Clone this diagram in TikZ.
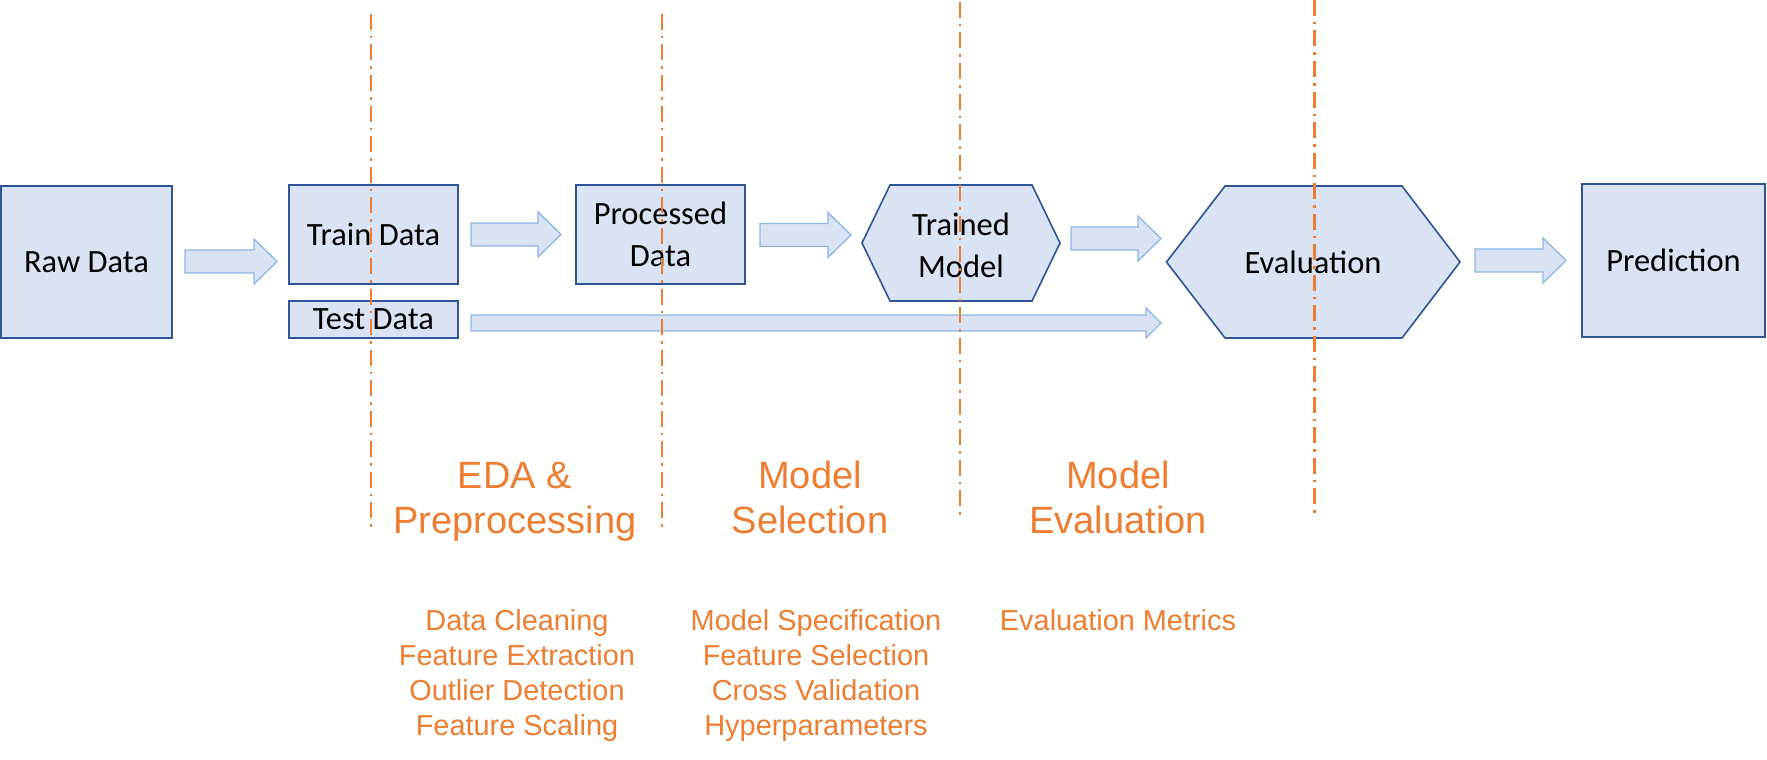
\documentclass[tikz,border=0pt]{standalone}
\usepackage{fontspec}
\setmainfont{Liberation Sans}
\newfontfamily\boxfont{Carlito}
\definecolor{boxfill}{HTML}{DAE3F3}
\definecolor{boxline}{HTML}{2F5597}
\definecolor{arrline}{HTML}{8DB6E4}
\definecolor{accent}{HTML}{ED7D31}
\newcommand\blockarr[6]{\draw[blockarrow] (#1,{#3-#4}) -- ({#2-#6},{#3-#4}) -- ({#2-#6},{#3-#5}) -- (#2,#3) -- ({#2-#6},{#3+#5}) -- ({#2-#6},{#3+#4}) -- (#1,{#3+#4}) -- cycle;}
\begin{document}
\begin{tikzpicture}[x=1pt,y=-1pt,
  box/.style={draw=boxline, fill=boxfill, line width=1.6pt, inner sep=0pt, font=\boxfont\fontsize{32.5}{42}\selectfont, align=center},
  hexbox/.style={draw=boxline, fill=boxfill, line width=1.6pt, line join=miter},
  boxtext/.style={inner sep=0pt, font=\boxfont\fontsize{32.5}{42}\selectfont, align=center},
  divider/.style={draw=accent, line width=2.2pt, dash pattern=on 16pt off 6pt on 2.5pt off 6pt},
  title/.style={text=accent, inner sep=0pt, font=\fontsize{38}{45}\selectfont, align=center},
  sub/.style={text=accent, inner sep=0pt, font=\fontsize{28.9}{35}\selectfont, align=center},
  blockarrow/.style={draw=arrline, fill=boxfill, line width=1.3pt, line join=miter}]
\useasboundingbox (0,0) rectangle (1767,760);

% boxes
\node[box, minimum width=171pt, minimum height=152pt] (raw) at (86.5,262) {Raw Data};
\node[box, minimum width=169pt, minimum height=99pt] (train) at (373.5,234.5) {Train Data};
\node[box, minimum width=169pt, minimum height=37pt] (test) at (373.5,319.5) {Test Data};
\node[box, minimum width=169pt, minimum height=99pt] (proc) at (660.5,234.5) {Processed\\Data};
\draw[hexbox] (862,243) -- (890,185) -- (1032,185) -- (1060,243) -- (1032,301) -- (890,301) -- cycle;
\node[boxtext] (trained) at (961,245) {Trained\\Model};
\draw[hexbox] (1166.5,262) -- (1225,186) -- (1402,186) -- (1460,262) -- (1402,338) -- (1225,338) -- cycle;
\node[boxtext] (eval) at (1313,262) {Evaluation};
\node[box, minimum width=183pt, minimum height=153pt] (pred) at (1673.5,260.5) {Prediction};

% block arrows
\blockarr{185}{277}{261.5}{11.5}{22.5}{23}
\blockarr{471}{561}{234.5}{11.5}{22.5}{23}
\blockarr{760}{851}{235}{11.5}{22.5}{23}
\blockarr{1071}{1161}{238.5}{11.5}{22.5}{23}
\blockarr{1475}{1566}{260.5}{11.5}{22.5}{23}
\blockarr{471}{1161}{323}{8}{15}{15}

% dividers
\coordinate (d1t) at (370.7,14); \coordinate (d1b) at (370.7,527);
\coordinate (d2t) at (661.7,14); \coordinate (d2b) at (661.7,527);
\coordinate (d3t) at (960,2); \coordinate (d3b) at (960,518);
\coordinate (d4t) at (1314.5,0); \coordinate (d4b) at (1314.5,514);
\draw[divider] (d1t) -- (d1b);
\draw[divider] (d2t) -- (d2b);
\draw[divider] (d3t) -- (d3b);
\draw[divider] (d4t) -- (d4b);

% titles
\node[title] (t1) at (515,501.5) {EDA \&\\Preprocessing};
\node[title] (t2) at (810,497) {Model\\Selection};
\node[title] (t3) at (1118,497) {Model\\Evaluation};

% sub lists
\node[sub] (s1) at (517,676) {Data Cleaning\\Feature Extraction\\Outlier Detection\\Feature Scaling};
\node[sub] (s2) at (816,676) {Model Specification\\Feature Selection\\Cross Validation\\Hyperparameters};
\node[sub] (s3) at (1118,620) {Evaluation Metrics};
\end{tikzpicture}
\end{document}
